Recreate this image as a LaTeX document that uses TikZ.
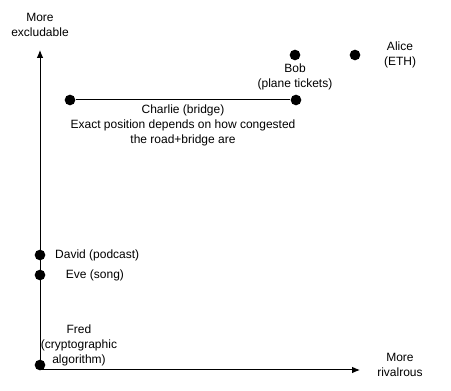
\documentclass[tikz,border=0pt]{standalone}
\usepackage{fontspec}
\setmainfont{Liberation Sans}
\usetikzlibrary{arrows.meta,positioning}
\tikzset{
	dot/.style = {circle, fill = black, inner sep = 0pt, minimum size = 8pt},
	lbl/.style = {font = \fontsize{9}{11.25}\selectfont, align = center, inner sep = 1pt},
	axis/.style = {line width = 0.75pt, -{Latex[length = 6pt, width = 5pt]}}
}
\begin{document}
\begin{tikzpicture}[x = 0.75pt, y = -0.75pt]
	\useasboundingbox (0, 0) rectangle (451, 391);

	% axes
	\coordinate (origin) at (40, 370);
	\coordinate (ytip) at (40, 50);
	\coordinate (xtip) at (360, 370);
	\draw[axis] (origin) -- (ytip);
	\draw[axis] (origin) -- (xtip);
	\node[lbl] (ylabel) at (40, 25) {More\\excludable};
	\node[lbl] (xlabel) at (400, 365) {More\\rivalrous};

	% goods
	\node[dot] (bob) at (295, 55) {};
	\node[lbl, below = 1pt of bob] (boblabel) {Bob\\(plane tickets)};
	\node[dot] (alice) at (355, 55) {};
	\node[lbl] (alicelabel) at (400, 55) {Alice\\(ETH)};

	\node[dot] (charlieA) at (70, 100) {};
	\node[dot] (charlieB) at (296, 100) {};
	\draw[line width = 0.75pt] (charlieA) -- (charlieB);
	\node[lbl] (charlielabel) at (183, 125) {Charlie (bridge)\\Exact position depends on how congested\\the road+bridge are};

	\node[dot] (david) at (40, 255) {};
	\node[lbl, right = 6pt of david] (davidlabel) {David (podcast)};
	\node[dot] (eve) at (40, 275) {};
	\node[lbl] (evelabel) at (95, 275) {Eve (song)};

	\node[dot] (fred) at (40, 365) {};
	\node[lbl] (fredlabel) at (79, 345) {Fred\\(cryptographic\\algorithm)};
\end{tikzpicture}
\end{document}
